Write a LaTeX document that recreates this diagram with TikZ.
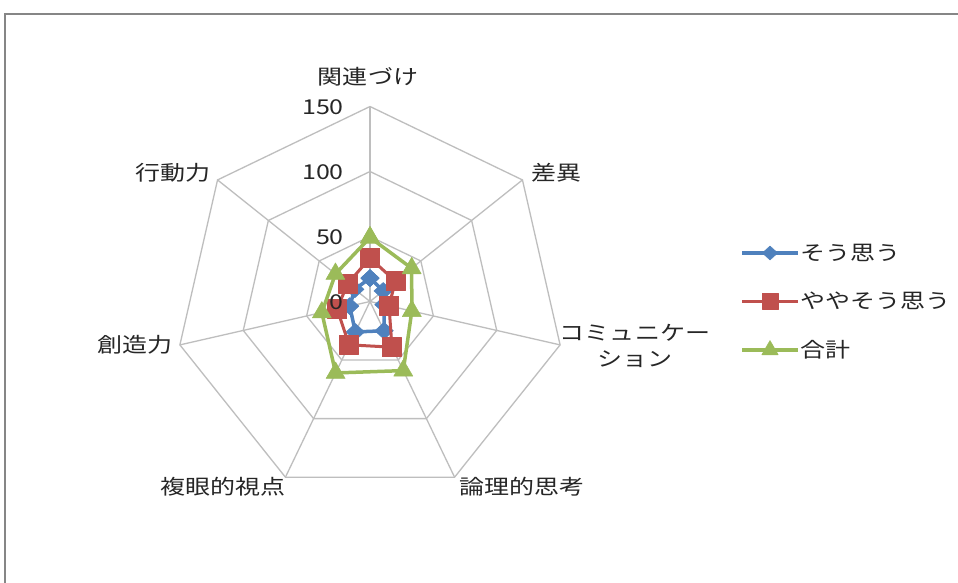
\documentclass[tikz,border=0pt]{standalone}
\usepackage{fontspec}
\newfontfamily\jp{Noto Sans CJK JP}
\usetikzlibrary{calc,plotmarks}
\definecolor{serA}{RGB}{79,129,189}
\definecolor{serB}{RGB}{192,80,77}
\definecolor{serC}{RGB}{155,187,89}
\definecolor{gridc}{RGB}{190,190,190}
\definecolor{framec}{RGB}{134,134,134}
\newcommand{\wide}[1]{\scalebox{1.22}[1]{#1}}
\tikzset{
  lbl/.style={inner sep=0pt, font=\jp\fontsize{20.5}{26}\selectfont, text=black!85},
  gridline/.style={draw=gridc, line width=1.3pt},
  lineA/.style={draw=serA, line width=3.5pt, line join=round, mark=diamond*, mark size=8.5pt, mark options={solid, xscale=1.45, fill=serA, draw=serA, line width=0.5pt}},
  lineB/.style={draw=serB, line width=3pt, line join=round, mark=square*, mark size=9.5pt, mark options={solid, fill=serB, draw=serB, line width=0.5pt}},
  lineC/.style={draw=serC, line width=3.5pt, line join=round, mark=triangle*, mark size=11pt, mark options={solid, fill=serC, draw=serC, line width=0.5pt}},
}
\begin{document}
\begin{tikzpicture}[x=1pt, y=1pt]
\useasboundingbox (0,0) rectangle (958,-583);
\fill[white] (0,0) rectangle (958,-583);
% frame
\draw[framec, line width=2pt] (5,-583) -- (5,-14.5) -- (958,-14.5);
\coordinate (c) at (370,-301.5);
% grid
\begin{scope}[shift={(c)}]
  \foreach \r in {65,130,195} {
    \draw[gridline] (90:\r) -- (38.57:\r) -- (-12.86:\r) -- (-64.29:\r) -- (-115.71:\r) -- (-167.14:\r) -- (141.43:\r) -- cycle;
  }
  \foreach \a in {38.57,-12.86,-64.29,-115.71,-167.14,141.43} {
    \draw[gridline] (0,0) -- (\a:195);
  }
  \draw[gridline, line width=2.2pt] (0,0) -- (90:195);
  % series
  \draw[lineA] plot coordinates {(90:23.4) (38.57:16.9) (-12.86:14.3) (-64.29:32.5) (-115.71:33.8) (-167.14:20.8) (141.43:19.5) (90:23.4)};
  \draw[lineB] plot coordinates {(90:43.5) (38.57:32.5) (-12.86:19.5) (-64.29:50.7) (-115.71:48.1) (-167.14:33.8) (141.43:28.6) (90:43.5)};
  \draw[lineC] plot coordinates {(90:64) (38.57:53.3) (-12.86:42.9) (-64.29:76.7) (-115.71:79.3) (-167.14:49.4) (141.43:44.2) (90:64)};
\end{scope}
% scale labels
\node[lbl, anchor=east] (v150) at (344,-107) {\wide{150}};
\node[lbl, anchor=east] (v100) at (344,-172) {\wide{100}};
\node[lbl, anchor=east] (v50) at (344,-237) {\wide{50}};
\node[lbl, anchor=east] (v0) at (344,-302) {\wide{0}};
% axis labels
\node[lbl] (ax1) at (368,-77) {\wide{関連づけ}};
\node[lbl, anchor=west] (ax2) at (531,-173) {\wide{差異}};
\node[lbl, align=center] (ax3) at (635,-346) {\wide{コミュニケー}\\\wide{ション}};
\node[lbl, anchor=west] (ax4) at (459,-487) {\wide{論理的思考}};
\node[lbl, anchor=east] (ax5) at (286,-487) {\wide{複眼的視点}};
\node[lbl, anchor=east] (ax6) at (173,-345) {\wide{創造力}};
\node[lbl, anchor=east] (ax7) at (211,-173) {\wide{行動力}};
% legend
\coordinate (la1) at (742,-253); \coordinate (lm1) at (770,-253); \coordinate (lb1) at (798,-253);
\coordinate (la2) at (742,-301); \coordinate (lm2) at (770,-301); \coordinate (lb2) at (798,-301);
\coordinate (la3) at (742,-350); \coordinate (lm3) at (770,-350); \coordinate (lb3) at (798,-350);
\draw[lineA, mark=none] (la1) -- (lb1);
\draw[lineB, mark=none] (la2) -- (lb2);
\draw[lineC, mark=none] (la3) -- (lb3);
\draw[lineA, mark size=7pt, draw=none] plot coordinates {(lm1)};
\draw[lineB, mark size=8pt, draw=none] plot coordinates {(lm2)};
\draw[lineC, mark size=9.5pt, draw=none] plot coordinates {(lm3)};
\node[lbl, anchor=west] (lg1) at (800,-253) {\wide{そう思う}};
\node[lbl, anchor=west] (lg2) at (800,-301) {\wide{ややそう思う}};
\node[lbl, anchor=west] (lg3) at (800,-350) {\wide{合計}};
\end{tikzpicture}
\end{document}
